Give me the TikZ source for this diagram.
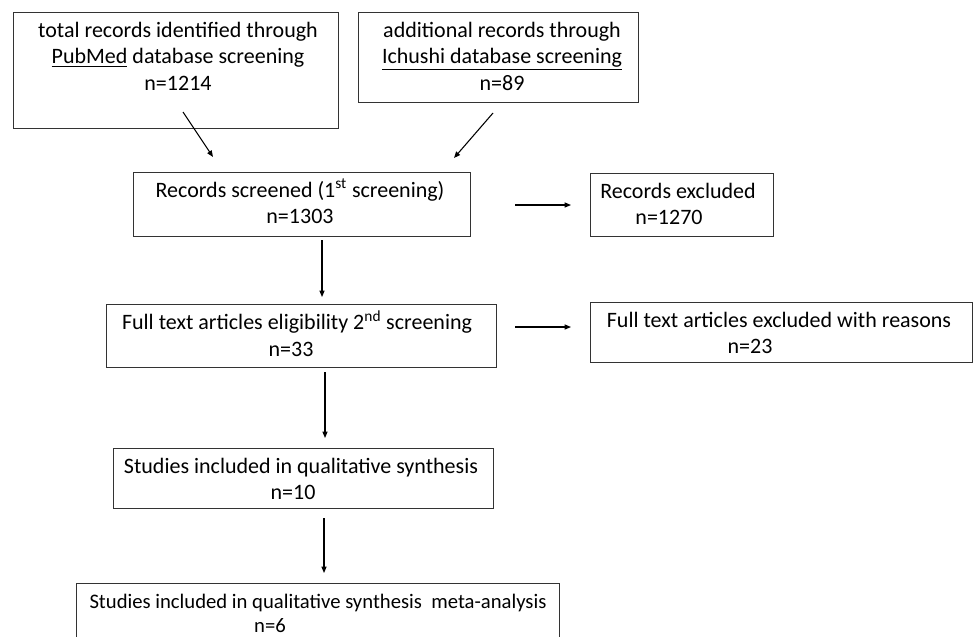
\documentclass[tikz,border=0pt]{standalone}
\usepackage{fontspec}
\setmainfont{Carlito}
\usetikzlibrary{arrows.meta}
\newlength\pxu
\setlength\pxu{0.75pt}
\newcommand\pbox[5]{\node[pbx, minimum width={(#4-#2)*0.75pt}, minimum height={(#5-#3)*0.75pt}] (#1) at ({(#2+#4)/2},{(#3+#5)/2}) {};}
\begin{document}
\begin{tikzpicture}[x=0.75pt,y=-0.75pt,
  pbx/.style={draw=black!80, line width=0.75pt, inner sep=0, rectangle},
  txt/.style={anchor=north, inner sep=0, align=center, font=\fontsize{16.5}{19.9}\selectfont},
  arr/.style={-{Triangle[length=4.8pt,width=3.8pt]}, line width=0.8pt, black}]
\useasboundingbox (0,0) rectangle (973,636);
\clip (0,0) rectangle (973,636);
% boxes
\pbox{b1}{13}{12}{338}{128}
\pbox{b2}{358}{12}{638}{102}
\pbox{b3}{133}{172}{470}{236}
\pbox{b4}{590}{173}{773}{236}
\pbox{b5}{106}{304}{496}{367}
\pbox{b6}{590}{302}{972}{362}
\pbox{b7}{113}{448}{493}{508}
\pbox{b8}{76}{583}{559}{650}
% texts
\node[txt] (t1) at (178,18.4) {\strut total records identified through\\\underline{PubMed} database screening\\n=1214};
\node[txt] (t2) at (502,18.4) {\strut additional records through\\\underline{Ichushi database screening}\\n=89};
\node[txt] (t3) at (300,178.4) {\strut Records screened (1\textsuperscript{st} screening)\\n=1303};
\node[txt] (t4) at (678,179.4) {\strut Records excluded\\n=1270\hspace*{18\pxu}};
\node[txt] (t5) at (297,310.4) {\strut Full text articles eligibility 2\textsuperscript{nd} screening\\n=33\hspace*{12\pxu}};
\node[txt] (t6) at (779,308.4) {\strut Full text articles excluded with reasons\\n=23\hspace*{58\pxu}};
\node[txt] (t7) at (301,454.4) {\strut Studies included in qualitative synthesis\\n=10\hspace*{16\pxu}};
\node[txt, font=\fontsize{15.5}{18.6}\selectfont] (t8) at (318,590.4) {\strut Studies included in qualitative synthesis\ \ meta-analysis\\n=6\hspace*{96\pxu}};
% arrows
\coordinate (a1s) at (183,112); \coordinate (a1e) at (213,157);
\coordinate (a2s) at (493,113); \coordinate (a2e) at (454,158);
\coordinate (a3s) at (515,205); \coordinate (a3e) at (571,205);
\coordinate (a4s) at (322,240); \coordinate (a4e) at (322,297);
\coordinate (a5s) at (515,327); \coordinate (a5e) at (571,327);
\coordinate (a6s) at (325,372); \coordinate (a6e) at (325,438);
\coordinate (a7s) at (324,518); \coordinate (a7e) at (324,573);
\draw[arr] (a1s) -- (a1e);
\draw[arr] (a2s) -- (a2e);
\draw[arr] (a3s) -- (a3e);
\draw[arr] (a4s) -- (a4e);
\draw[arr] (a5s) -- (a5e);
\draw[arr] (a6s) -- (a6e);
\draw[arr] (a7s) -- (a7e);
\end{tikzpicture}
\end{document}
